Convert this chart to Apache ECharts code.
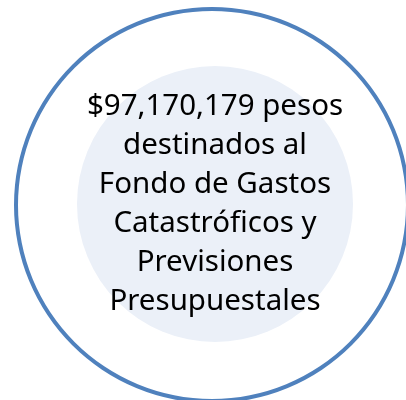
<!DOCTYPE html>
<html>
<head>
<meta charset="utf-8">
<script src="https://cdn.jsdelivr.net/npm/echarts@6/dist/echarts.min.js"></script>
<style>
  html, body { margin: 0; padding: 0; background: #fff; }
  #main { width: 406px; height: 400px; }
</style>
</head>
<body>
<div id="main"></div>
<script>
// text lines shown in the middle of the circle
var lines = [
  '$97,170,179 pesos',
  'destinados al',
  'Fondo de Gastos',
  'Catastróficos y',
  'Previsiones',
  'Presupuestales'
];
var ringValue = [1];
var discValue = [1];

var chart = echarts.init(document.getElementById('main'), null, { renderer: 'canvas' });

var option = {
  animation: false,
  series: [
    {
      type: 'pie',
      center: [212, 205],
      radius: [194, 198],
      silent: true,
      label: { show: false },
      labelLine: { show: false },
      itemStyle: { color: '#4F81BD' },
      data: ringValue.map(function (v) { return { value: v }; })
    },
    {
      type: 'pie',
      center: [215, 204],
      radius: [0, 138],
      silent: true,
      itemStyle: { color: '#EBF0F8' },
      label: {
        show: true,
        position: 'center',
        formatter: lines.join('\n'),
        color: '#000',
        fontFamily: 'Noto Sans',
        fontSize: 29.5,
        lineHeight: 39
      },
      labelLine: { show: false },
      data: discValue.map(function (v) { return { value: v }; })
    }
  ]
};

chart.setOption(option);
window.addEventListener('resize', chart.resize);
</script>
</body>
</html>
